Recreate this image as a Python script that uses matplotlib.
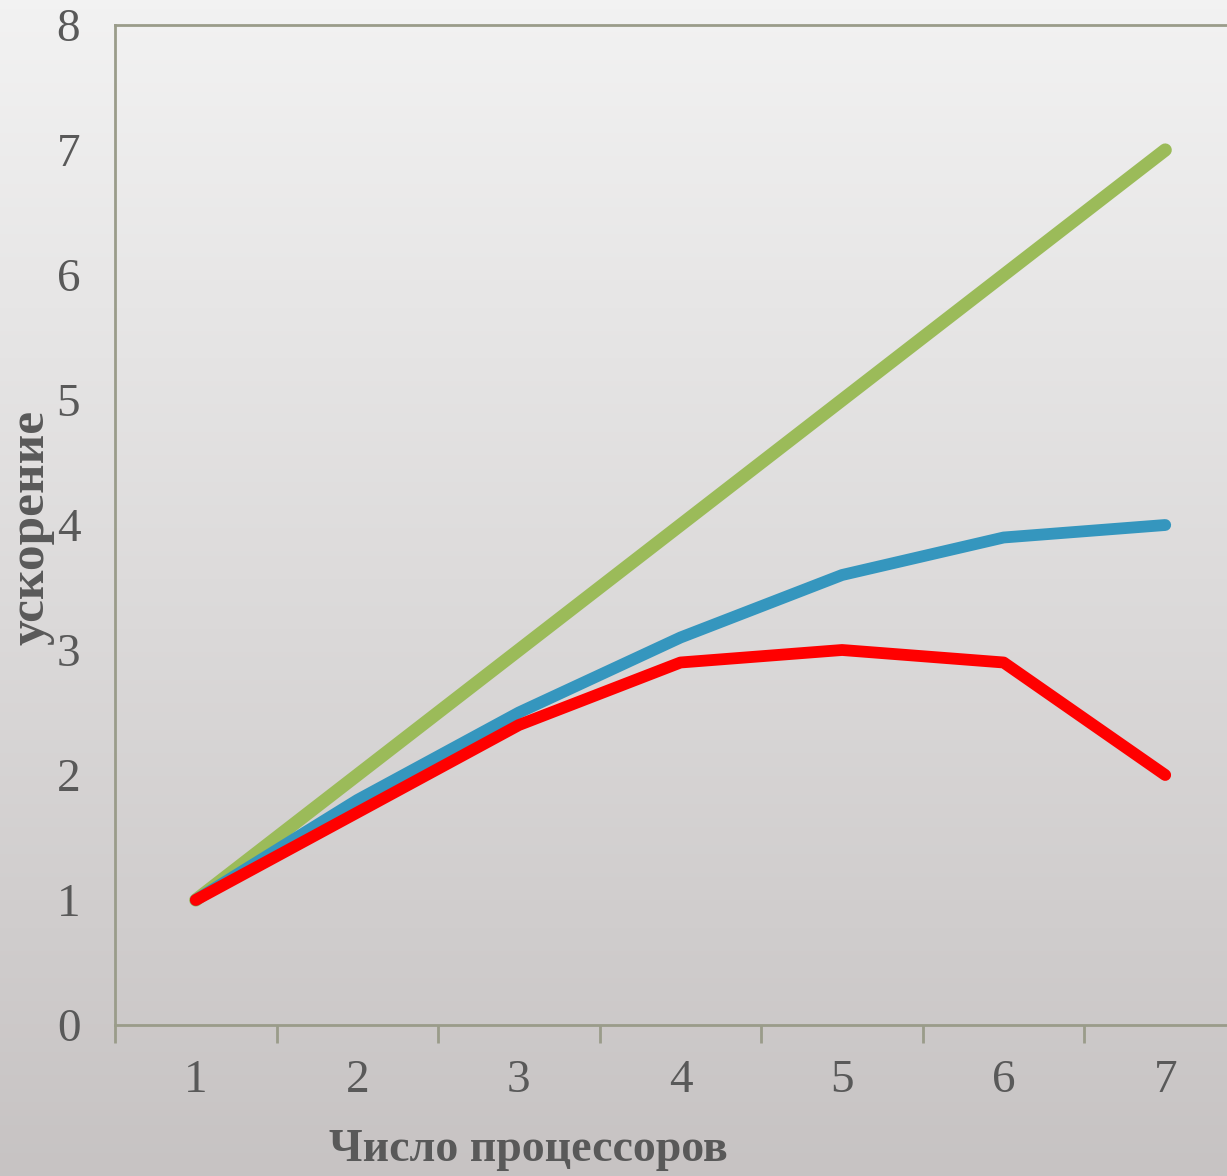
import matplotlib.pyplot as plt
import numpy as np

processors = [1, 2, 3, 4, 5, 6, 7]
speedup_ideal = [1, 2, 3, 4, 5, 6, 7]  # идеальное ускорение
speedup_blue = [1, 1.8, 2.5, 3.1, 3.6, 3.9, 4.0]
speedup_red = [1, 1.7, 2.4, 2.9, 3.0, 2.9, 2.0]
y_ticks = [0, 1, 2, 3, 4, 5, 6, 7, 8]

plt.rcParams['font.family'] = ['Liberation Serif', 'DejaVu Serif']

fig = plt.figure(figsize=(12.27, 11.76), dpi=100)

# фон с градиентом
bg = fig.add_axes([0, 0, 1, 1])
grad = np.linspace(0, 1, 256).reshape(-1, 1)
top = np.array([0.95, 0.95, 0.95])
bottom = np.array([0.78, 0.765, 0.765])
img = top + grad[:, :, None] * (bottom - top)
bg.imshow(img, aspect='auto', extent=[0, 1, 0, 1], origin='upper')
bg.axis('off')

ax = fig.add_axes([115 / 1227, 1 - 1025 / 1176, (1246 - 115) / 1227, 1000 / 1176])
ax.patch.set_alpha(0)

ax.plot(processors, speedup_ideal, color='#9bbb59', lw=9.5, solid_capstyle='round', solid_joinstyle='round')
ax.plot(processors, speedup_blue, color='#3596be', lw=8.5, solid_capstyle='round', solid_joinstyle='round')
ax.plot(processors, speedup_red, color='#ff0000', lw=8.5, solid_capstyle='round', solid_joinstyle='round')

ax.set_xlim(0.5, 7.5)
ax.set_ylim(0, 8)
ax.set_yticks(y_ticks)
ax.set_xticks(processors)
ax.set_xticks(np.arange(0.5, 8, 1), minor=True)

spine_col = '#9a9c8a'
for s in ax.spines.values():
    s.set_color(spine_col)
    s.set_linewidth(2)

ax.tick_params(axis='x', which='major', length=0, pad=25, labelsize=34, labelcolor='#595959')
ax.tick_params(axis='x', which='minor', length=13, width=2, color=spine_col, direction='out')
ax.tick_params(axis='y', length=0, pad=25, labelsize=34, labelcolor='#595959')

fig.text(528 / 1227, 1 - 1150 / 1176, 'Число процессоров', fontsize=33, fontweight='bold',
         color='#595959', ha='center', va='center')
fig.text(32 / 1227, 1 - 527 / 1176, 'ускорение', fontsize=37, fontweight='bold',
         color='#595959', ha='center', va='center', rotation=90)

fig.savefig('out.png', dpi=100)
